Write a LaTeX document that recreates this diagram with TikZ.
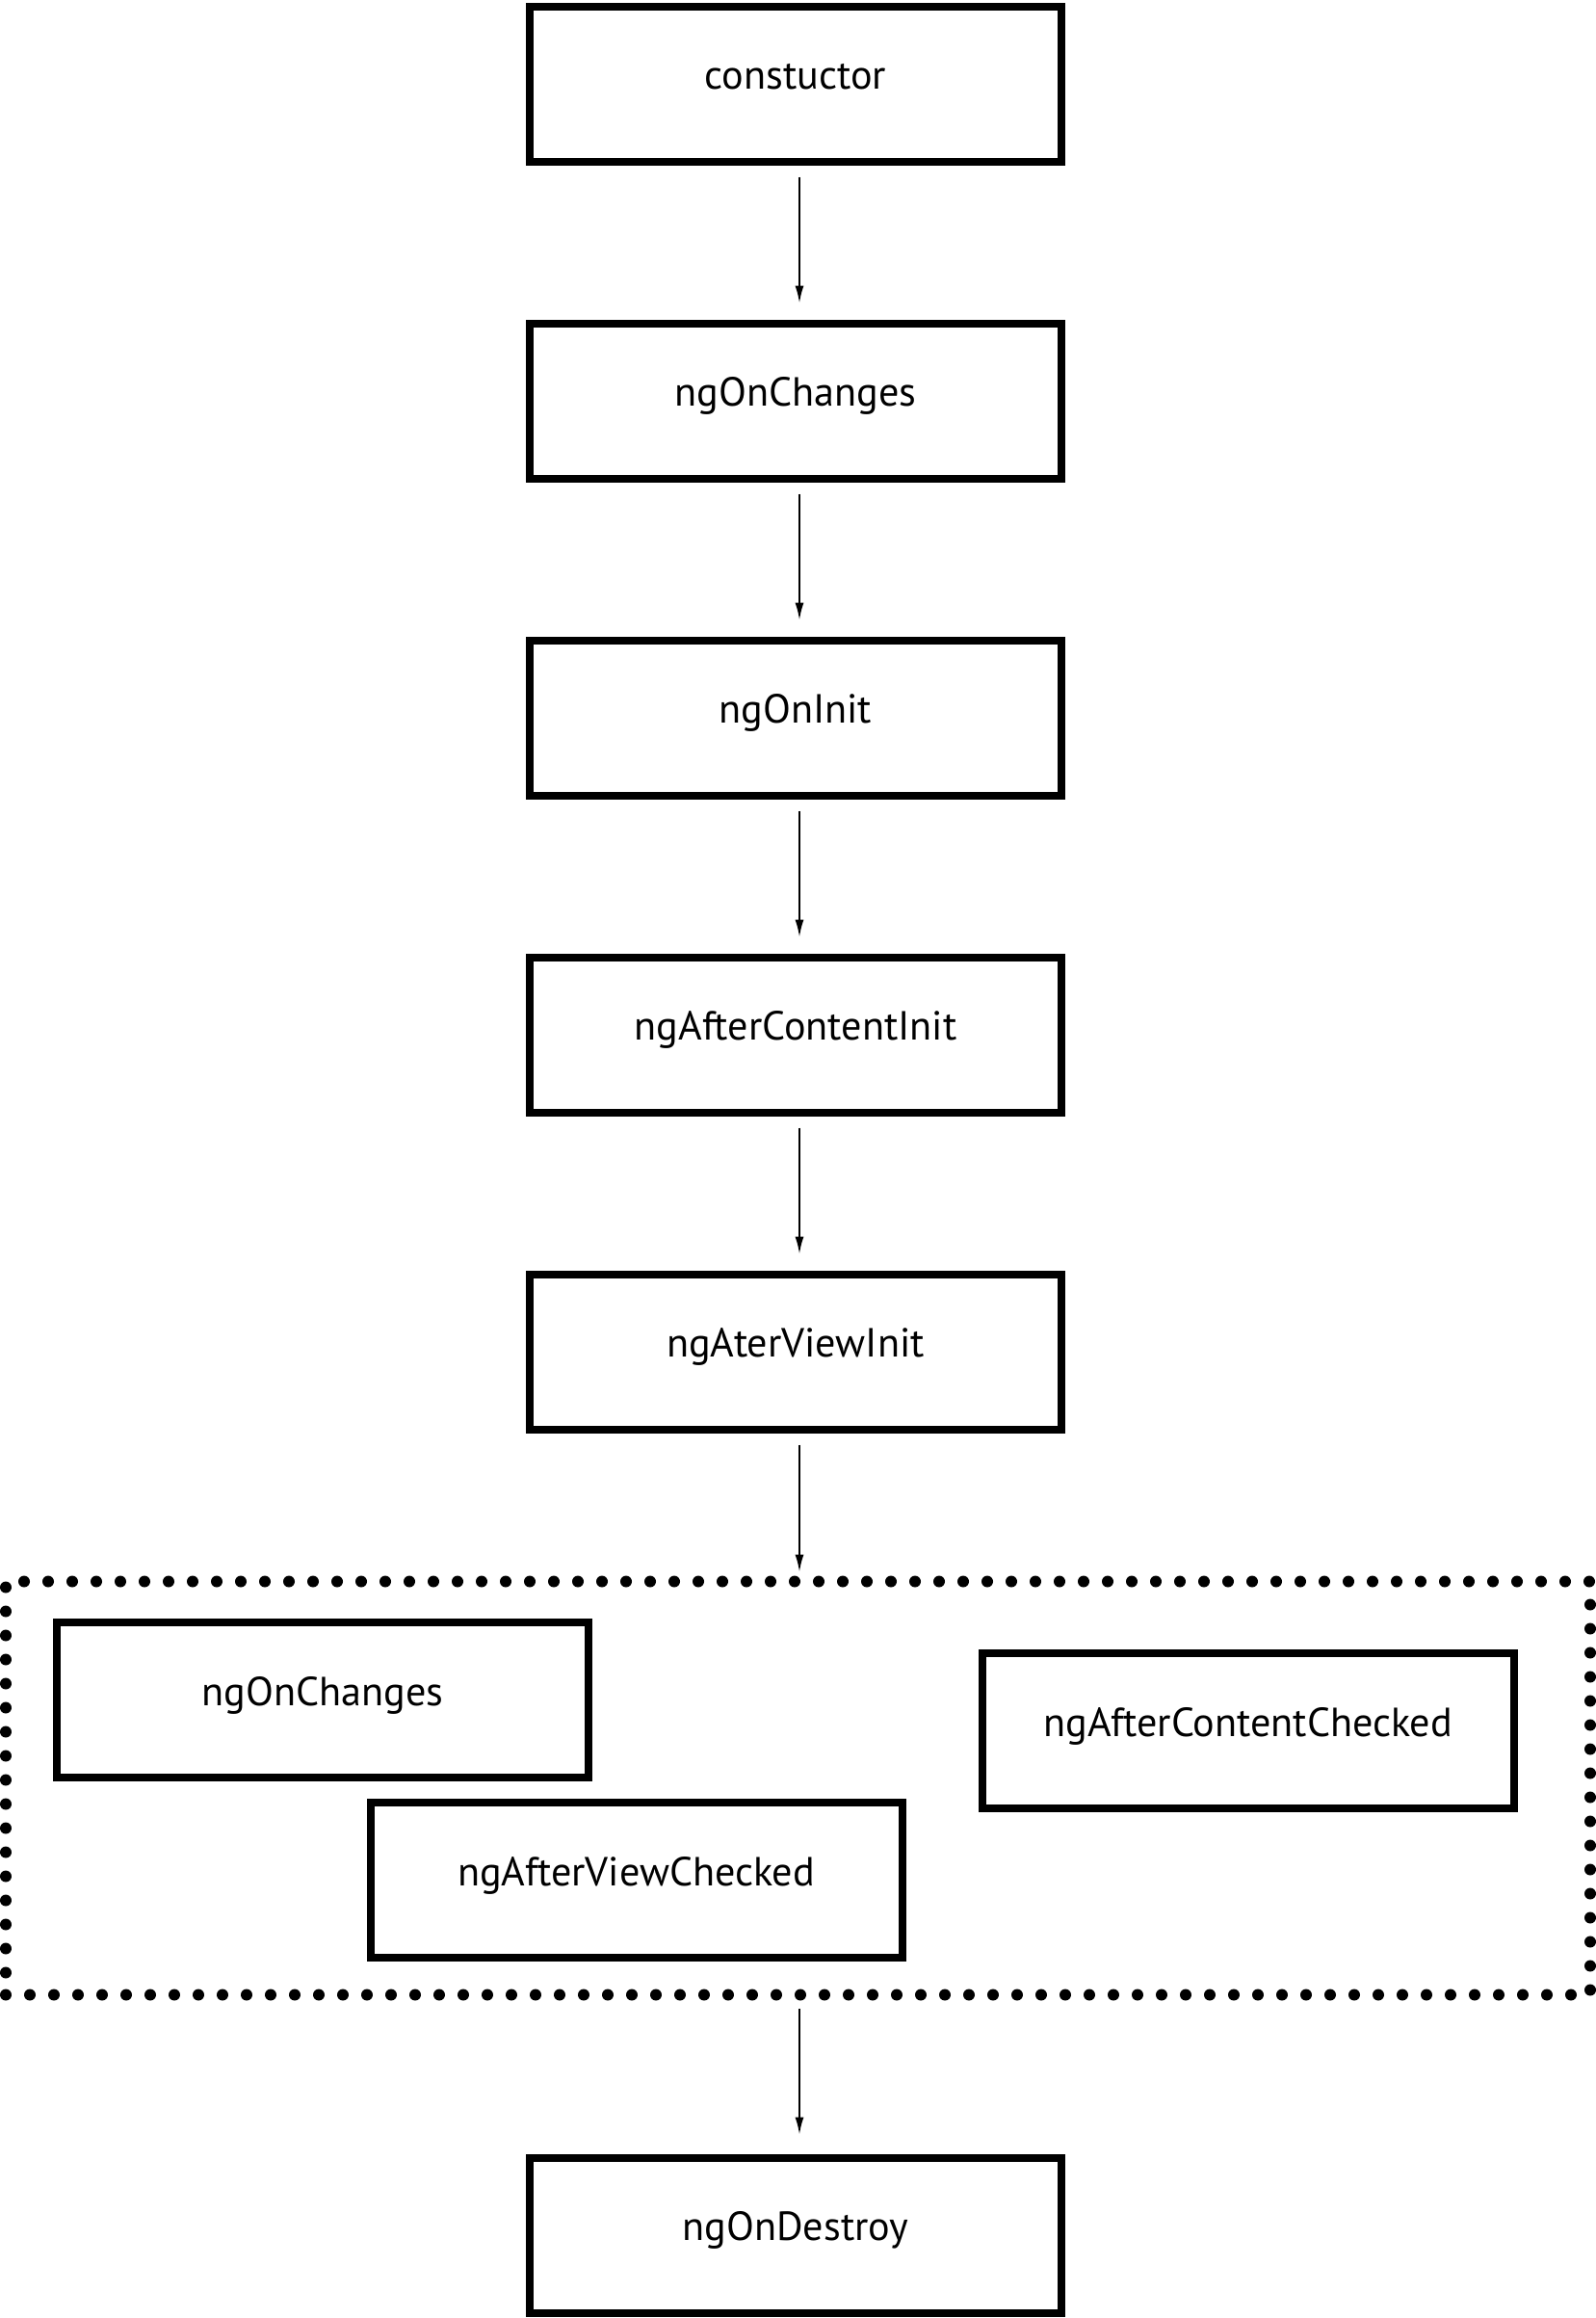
\documentclass[tikz,border=0pt]{standalone}
\usepackage{fontspec}
\setmainfont{PT Sans}
\usetikzlibrary{arrows.meta,positioning}

\begin{document}
\begin{tikzpicture}[
    node distance=1.6cm,
    hook/.style={draw, rectangle, line width=0.08cm, minimum width=5.52cm, minimum height=1.61cm, text height=0.3cm, text depth=0.19cm, font=\fontsize{12}{14}\selectfont},
    group/.style={draw, rectangle, line width=0.12cm, dash pattern=on 0pt off 0.25cm, line cap=round, minimum width=16.45cm, minimum height=4.29cm},
    arrow/.style={-{Latex[length=0.18cm, width=0.09cm]}, line width=0.5pt, shorten <=0.12cm, shorten >=0.17cm, transform canvas={xshift=0.04cm}}
  ]
    \useasboundingbox (0,0) rectangle (16.57,-24.06);

    \node (ctor) [hook] at (8.26,-0.87) {constuctor};
    \node (changes) [hook, below=of ctor] {ngOnChanges};
    \node (init) [hook, below=of changes] {ngOnInit};
    \node (contentinit) [hook, below=of init] {ngAfterContentInit};
    \node (viewinit) [hook, below=of contentinit] {ngAterViewInit};

    \node (checks) [group] at (8.285,-18.56) {};
    \node (recheck) [hook] at (3.35,-17.645) {ngOnChanges};
    \node (viewchecked) [hook] at (6.605,-19.517) {ngAfterViewChecked};
    \node (contentchecked) [hook] at (12.957,-17.967) {ngAfterContentChecked};

    \node (destroy) [hook] at (8.26,-23.20) {ngOnDestroy};

    \draw [arrow] (ctor) -- (changes);
    \draw [arrow] (changes) -- (init);
    \draw [arrow] (init) -- (contentinit);
    \draw [arrow] (contentinit) -- (viewinit);
    \draw [arrow, shorten >=0.04cm] (viewinit.south) -- (viewinit.south |- checks.north);
    \draw [arrow, shorten <=0.08cm, shorten >=0.2cm] (destroy.north |- checks.south) -- (destroy.north);
  \end{tikzpicture}
\end{document}
